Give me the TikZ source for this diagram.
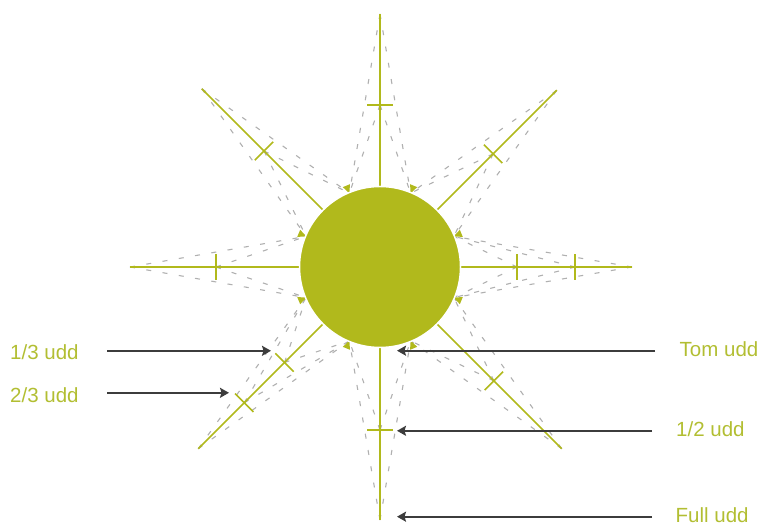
\documentclass[tikz,border=0pt]{standalone}
\usepackage{fontspec}
\setmainfont{Liberation Sans}
\usetikzlibrary{arrows.meta}
\definecolor{sun}{RGB}{177,185,28}
\definecolor{suntext}{RGB}{178,190,50}
\definecolor{guidegray}{RGB}{176,176,176}
\definecolor{pointergray}{RGB}{60,60,60}
\begin{document}
\begin{tikzpicture}[x=1pt,y=1pt,
  ray/.style={draw=sun, line width=1.6pt},
  tickmark/.style={draw=sun, line width=1.6pt},
  guide/.style={draw=guidegray, line width=1.1pt, dash pattern=on 5pt off 11.5pt},
  pointer/.style={draw=pointergray, line width=1.8pt, -{Stealth[length=9pt,width=10pt,inset=1.5pt]}},
  lbl/.style={text=suntext, font=\fontsize{20.5}{24}\selectfont, inner sep=0pt, anchor=base west}]
\useasboundingbox (0,0) rectangle (762,526);
\coordinate (C) at (380,259);
% dashed guides from tip and tick points to the circle
\foreach \a/\tip/\rlist in {0/252/{252,137,195}, 45/250/{250,160}, 90/253/{253,162},
    135/252/{252,164}, 180/250/{250,164}, 225/257/{257,135,192}, 270/253/{253,163}, 315/257/{257,161}} {
  \foreach \r in \rlist {
    \draw[guide, shift={(C)}, rotate=\a] (\r,0) -- (22.5:80);
    \draw[guide, shift={(C)}, rotate=\a] (\r,0) -- (-22.5:80);
  }
}
% small green arrowheads on the circle
\foreach \a in {22.5,67.5,...,337.5} {
  \fill[sun, shift={(C)}, rotate=\a] (79.5,0) -- (88,3.8) -- (88,-3.8) -- cycle;
}
% rays and ticks
\foreach \a/\tip/\tlist in {0/252/{137,195}, 45/250/{160}, 90/253/{162},
    135/252/{164}, 180/250/{164}, 225/257/{135,192}, 270/253/{163}, 315/257/{161}} {
  \draw[ray, shift={(C)}, rotate=\a] (80,0) -- (\tip,0);
  \foreach \r in \tlist {
    \draw[tickmark, shift={(C)}, rotate=\a] (\r,-13) -- (\r,13);
  }
}
% the sun
\node (disc) [circle, fill=sun, draw=white, line width=1.5pt, minimum size=161pt, inner sep=0pt] at (C) {};
% labels
\node[lbl] (l13) at (10,166) {1/3 udd};
\node[lbl] (l23) at (10,123) {2/3 udd};
\node[lbl] (ltom) at (679.5,169) {Tom udd};
\node[lbl] (l12) at (676,89) {1/2 udd};
\node[lbl] (lfull) at (675.5,3) {Full udd};
% pointer ends
\coordinate (s13) at (107,175.2);   \coordinate (e13) at (271,175.2);
\coordinate (s23) at (107,133.2);   \coordinate (e23) at (229,133.2);
\coordinate (stom) at (655,175.3);  \coordinate (etom) at (397,175.3);
\coordinate (s12) at (652,95.2);    \coordinate (e12) at (397,95.2);
\coordinate (sfull) at (652,9.3);   \coordinate (efull) at (397,9.3);
\draw[pointer] (s13) -- (e13);
\draw[pointer] (s23) -- (e23);
\draw[pointer] (stom) -- (etom);
\draw[pointer] (s12) -- (e12);
\draw[pointer] (sfull) -- (efull);
\end{tikzpicture}
\end{document}
